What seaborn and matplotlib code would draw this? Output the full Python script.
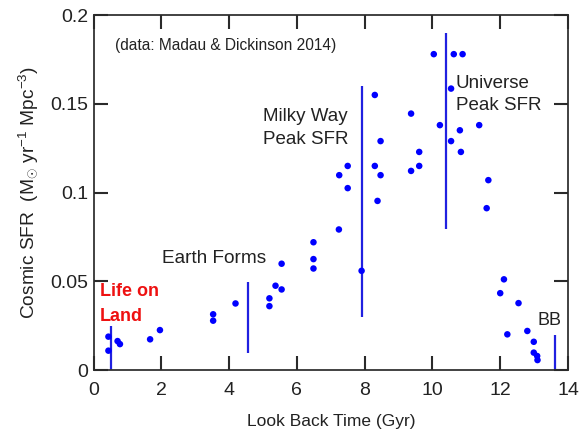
import matplotlib
matplotlib.use("Agg")
import matplotlib.pyplot as plt
import seaborn as sns
import pandas as pd

# Data
lookback_gyr = [0.44, 0.44, 0.71, 0.78, 1.67, 1.96, 3.53, 3.53, 4.19, 5.19, 5.19,
                5.37, 5.55, 5.55, 6.49, 6.49, 6.49, 7.24, 7.25, 7.5, 7.5, 7.91,
                8.30, 8.30, 8.38, 8.47, 8.47, 9.37, 9.37, 9.61, 9.61, 10.04, 10.22,
                10.55, 10.55, 10.63, 10.81, 10.84, 10.89, 11.38, 11.6, 11.65,
                12.0, 12.11, 12.21, 12.54, 12.8, 12.99, 12.99, 13.09, 13.1]
sfr = [0.0188, 0.0109, 0.0163, 0.0146, 0.0173, 0.0225, 0.0314, 0.0278, 0.0375, 0.0404, 0.036,
       0.0475, 0.0454, 0.0599, 0.072, 0.0625, 0.0572, 0.0792, 0.1098, 0.1025, 0.115, 0.0559,
       0.155, 0.115, 0.0953, 0.129, 0.1098, 0.1445, 0.1122, 0.1229, 0.115, 0.178, 0.138,
       0.1586, 0.129, 0.178, 0.1351, 0.1229, 0.178, 0.138, 0.0912, 0.107,
       0.0433, 0.0511, 0.0201, 0.0377, 0.022, 0.0159, 0.0098, 0.0079, 0.0056]

event_x = [0.51, 4.55, 7.91, 10.39, 13.61]
event_ymin = [0.0, 0.0094, 0.030, 0.0794, 0.0]
event_ymax = [0.0248, 0.0497, 0.160, 0.190, 0.020]

x_ticks = [0, 2, 4, 6, 8, 10, 12, 14]
y_ticks = [0, 0.05, 0.1, 0.15, 0.2]
y_tick_labels = ["0", "0.05", "0.1", "0.15", "0.2"]

df = pd.DataFrame({"t": lookback_gyr, "sfr": sfr})

sns.set_style("ticks")
plt.rcParams.update({
    "font.family": ["Liberation Sans", "DejaVu Sans"],
    "mathtext.fontset": "custom",
    "mathtext.rm": "Liberation Sans",
    "mathtext.it": "Liberation Sans",
    "axes.axisbelow": False,
    "axes.edgecolor": "#333333",
    "axes.linewidth": 1.3,
})

fig = plt.figure(figsize=(5.79, 4.32), dpi=100)
ax = fig.add_axes([0.1615, 0.1435, 0.8195, 0.8215])

ax.vlines(event_x, event_ymin, event_ymax, color="#2020e0", lw=1.6, zorder=2)
sns.scatterplot(data=df, x="t", y="sfr", ax=ax, color="#0000ff", s=22,
                edgecolor="none", zorder=3)

ax.set_xlim(0, 14)
ax.set_ylim(0, 0.2)
ax.set_xticks(x_ticks)
ax.set_yticks(y_ticks)
ax.set_yticklabels(y_tick_labels)
ax.set_axisbelow(False)

ax.set_xlabel("Look Back Time (Gyr)", fontsize=12.5, color="#222222", labelpad=11)
ax.set_ylabel(r"Cosmic SFR  (M$_{\odot}$ yr$^{-1}$ Mpc$^{-3}$)", fontsize=13.8,
              color="#222222", labelpad=7)

ax.text(0.63, 0.183, "(data: Madau & Dickinson 2014)", fontsize=11.2, va="center",
        color="#222222")
ax.text(5.0, 0.1475, "Milky Way\nPeak SFR", fontsize=13.5, va="top", color="#222222",
        linespacing=1.45)
ax.text(10.69, 0.1665, "Universe\nPeak SFR", fontsize=13.5, va="top", color="#222222",
        linespacing=1.4)
ax.text(2.02, 0.063, "Earth Forms", fontsize=13.7, va="center", color="#222222")
ax.text(0.19, 0.049, "Life on\nLand", fontsize=13, va="top", color="#ee1111",
        fontweight="bold", linespacing=1.6)
ax.text(13.1, 0.028, "BB", fontsize=13, va="center", color="#222222")

# ticks: inward on all four sides
ax.tick_params(axis="x", direction="in", length=10, width=1.5, bottom=True, top=True,
               color="#2a2a2a", labelsize=14, labelcolor="#222222", pad=8.5)
ax.tick_params(axis="y", direction="in", length=10, width=1.5, left=True, right=True,
               color="#2a2a2a", labelsize=14, labelcolor="#222222", pad=4)

fig.savefig("out.png", dpi=100)
